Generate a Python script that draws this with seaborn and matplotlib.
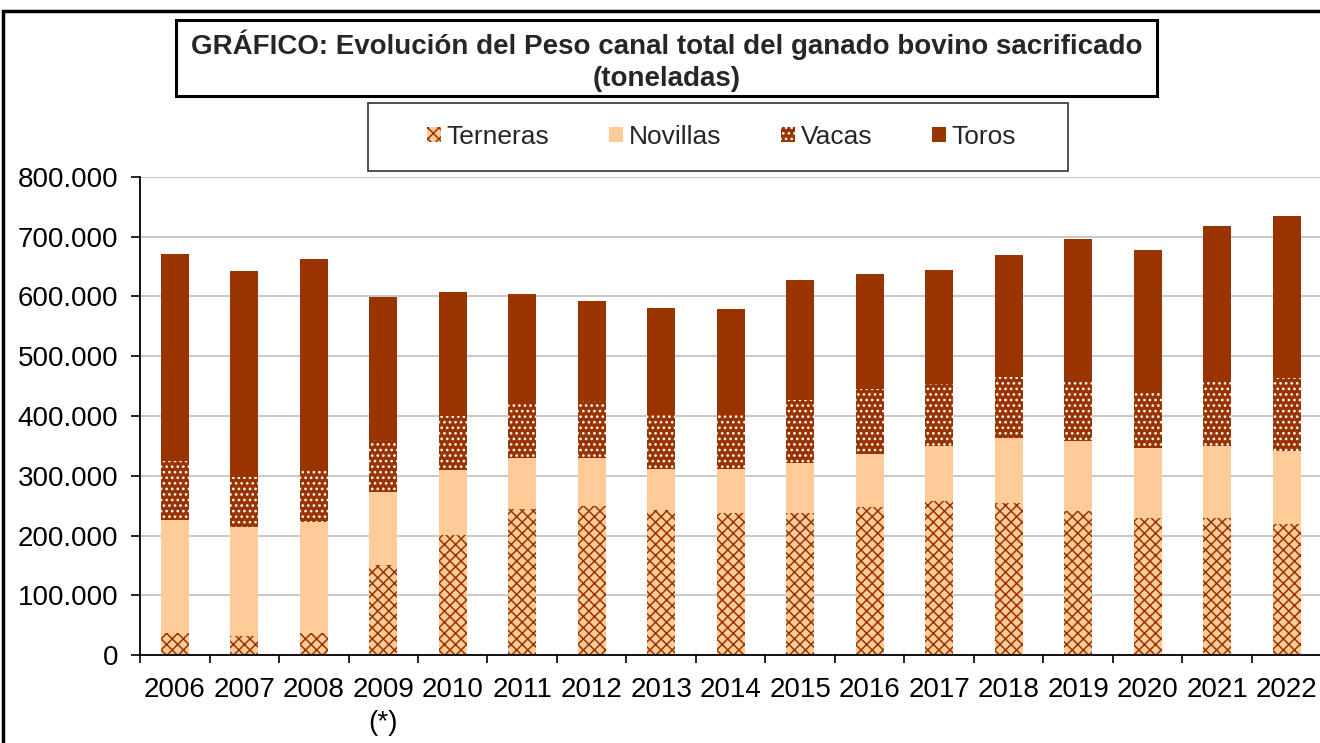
import numpy as np
import pandas as pd
import matplotlib
matplotlib.use("Agg")
import matplotlib.pyplot as plt
import seaborn as sns
from matplotlib.patches import Rectangle, Patch
from matplotlib.ticker import FuncFormatter, FixedLocator

# ---------------- data (toneladas) ----------------
years = ["2006", "2007", "2008", "2009", "2010", "2011", "2012", "2013", "2014",
         "2015", "2016", "2017", "2018", "2019", "2020", "2021", "2022"]
year_labels = ["2006", "2007", "2008", "2009\n(*)", "2010", "2011", "2012", "2013", "2014",
               "2015", "2016", "2017", "2018", "2019", "2020", "2021", "2022"]
terneras = [36000, 32000, 36000, 151000, 201000, 245000, 249000, 243000, 237000,
            238000, 248000, 257000, 254000, 241000, 229000, 230000, 220000]
novillas = [190000, 182000, 187000, 121000, 109000, 84000, 81000, 68000, 75000,
            84000, 88000, 93000, 109000, 117000, 117000, 119000, 122000]
vacas = [98000, 84000, 89000, 87000, 90000, 93000, 95000, 90000, 89000,
         104000, 109000, 103000, 102000, 100000, 96000, 110000, 122000]
toros = [347000, 345000, 350000, 240000, 207000, 182000, 167000, 180000, 178000,
         201000, 193000, 191000, 204000, 238000, 236000, 259000, 270000]
series_names = ["Terneras", "Novillas", "Vacas", "Toros"]

title_text = "GRÁFICO: Evolución del Peso canal total del ganado bovino sacrificado\n(toneladas)"

DARK = "#993300"
PEACH = "#FFCC99"

df = pd.DataFrame({"year": years, "Terneras": terneras, "Novillas": novillas,
                   "Vacas": vacas, "Toros": toros})
df["c1"] = df["Terneras"]
df["c2"] = df["c1"] + df["Novillas"]
df["c3"] = df["c2"] + df["Vacas"]
df["c4"] = df["c3"] + df["Toros"]

sns.set_theme(style="white")
plt.rcParams["font.family"] = ["Liberation Sans", "DejaVu Sans"]
plt.rcParams["hatch.linewidth"] = 1.1

W, H = 1320, 743
fig = plt.figure(figsize=(W / 100, H / 100), dpi=100, facecolor="white")

def fx(px):
    return px / W

def fy(py):
    return 1 - py / H

ax_left, ax_right, ax_top, ax_bottom = 140, 1321.5, 177, 655
ax = fig.add_axes([fx(ax_left), fy(ax_bottom), fx(ax_right - ax_left), (ax_bottom - ax_top) / H])

# layers drawn from total down (overlapping cumulative bars)
layers = [
    ("c4", DARK, None, DARK),
    ("c3", DARK, "...", "white"),
    ("c2", PEACH, None, PEACH),
    ("c1", PEACH, "xxx", DARK),
]
for col, fc, hatch, ec in layers:
    n0 = len(ax.patches)
    sns.barplot(data=df, x="year", y=col, order=years, color=fc, saturation=1,
                width=0.4, errorbar=None, ax=ax)
    for p in ax.patches[n0:]:
        p.set_facecolor(fc)
        p.set_edgecolor(ec)
        p.set_linewidth(0)
        if hatch:
            p.set_hatch(hatch)

ax.set_xlim(-0.5, 16.5)
ax.set_ylim(0, 800000)
ax.set_xlabel("")
ax.set_ylabel("")
ax.yaxis.set_major_locator(FixedLocator(np.arange(0, 800001, 100000)))
ax.yaxis.set_major_formatter(FuncFormatter(lambda v, p: f"{int(v):,}".replace(",", ".")))
ax.set_xticks(range(len(years)))
ax.set_xticklabels(year_labels)
ax.xaxis.set_minor_locator(FixedLocator(np.arange(-0.5, 17, 1)))
ax.tick_params(axis="x", which="major", length=0, pad=15.5, labelsize=20, colors="black")
ax.tick_params(axis="x", which="minor", length=6, width=1.2, color="black", direction="out", bottom=True)
ax.tick_params(axis="y", which="major", length=6.5, width=1.2, pad=9, labelsize=20,
               colors="black", direction="out", left=True)
for lab in ax.get_xticklabels():
    lab.set_linespacing(1.36)

ax.yaxis.grid(True, color="#C4C4C4", lw=1.3)
ax.xaxis.grid(False)
ax.set_axisbelow(True)
for s in ["top", "right"]:
    ax.spines[s].set_visible(False)
for s in ["left", "bottom"]:
    ax.spines[s].set_color("black")
    ax.spines[s].set_linewidth(1.3)

# outer chart frame
fig.add_artist(Rectangle((fx(3), -0.2), 1.5, fy(11) + 0.2, transform=fig.transFigure,
                         fill=False, ec="black", lw=2.5, clip_on=False))

# title box
fig.add_artist(Rectangle((fx(176), fy(96)), fx(1157 - 176), (96 - 20) / H,
                         transform=fig.transFigure, fill=True, fc="white",
                         ec="black", lw=2.2))
fig.text(fx(666.5), fy(61), title_text, ha="center", va="center", fontsize=20,
         fontweight="bold", linespacing=1.28)

# legend box
fig.add_artist(Rectangle((fx(368), fy(171)), fx(1068 - 368), (171 - 103) / H,
                         transform=fig.transFigure, fill=True, fc="white",
                         ec="#333333", lw=1.2))
handles = [
    Patch(facecolor=PEACH, edgecolor=DARK, hatch="xxx", linewidth=0, label=series_names[0]),
    Patch(facecolor=PEACH, edgecolor=PEACH, linewidth=0, label=series_names[1]),
    Patch(facecolor=DARK, edgecolor="white", hatch="...", linewidth=0, label=series_names[2]),
    Patch(facecolor=DARK, edgecolor=DARK, linewidth=0, label=series_names[3]),
]
fig.legend(handles=handles, loc="center", bbox_to_anchor=(fx(721.5), fy(137)),
           ncol=4, frameon=False, fontsize=19, handlelength=0.53, handleheight=0.53,
           handletextpad=0.23, columnspacing=2.25, borderpad=0, borderaxespad=0)

fig.savefig("out.png", dpi=100, facecolor="white")
